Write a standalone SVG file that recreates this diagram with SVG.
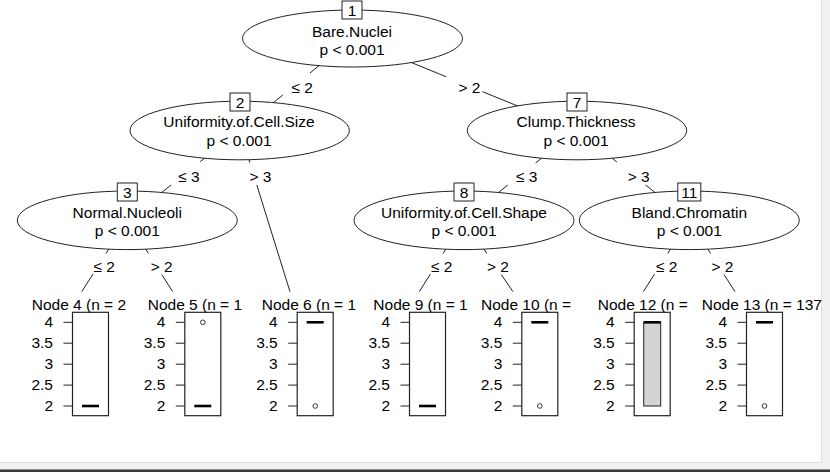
<svg xmlns="http://www.w3.org/2000/svg" xmlns:xlink="http://www.w3.org/1999/xlink" width="830" height="472" viewBox="0 0 830 472">
<style>
text{font-family:"Liberation Sans",Arial,sans-serif;font-size:15.5px;fill:#000}
.c{text-anchor:middle}
.e{text-anchor:end}
.edge{stroke:#222;stroke-width:1;fill:none}
.ell{fill:#fff;stroke:#222;stroke-width:1}
.idb{fill:#fff;stroke:#222;stroke-width:1}
.pbox{fill:none;stroke:#222;stroke-width:1.2}
.tick{stroke:#222;stroke-width:1;fill:none}
.med{stroke:#000;stroke-width:2.6}
.out{fill:#fff;stroke:#222;stroke-width:0.9}
</style>
<defs>
<g id="axis">
<path class="tick" d="M-9,322.3H0M-9,343.2H0M-9,364.2H0M-9,385.1H0M-9,406H0"/>
<text class="e" x="-19.5" y="327.3">4</text>
<text class="e" x="-19.5" y="348.2">3.5</text>
<text class="e" x="-19.5" y="369.2">3</text>
<text class="e" x="-19.5" y="390.1">2.5</text>
<text class="e" x="-19.5" y="411">2</text>
<rect class="pbox" x="0" y="312.3" width="36" height="103.4"/>
</g>
</defs>
<rect x="0" y="0" width="830" height="472" fill="#fff"/>
<rect x="822" y="0" width="8" height="472" fill="#f1f1f1"/>
<rect x="0" y="463" width="830" height="7" fill="#f1f1f1"/>
<rect x="0" y="469.5" width="830" height="2.5" fill="#3a3a3a"/>
<path d="M821.5,0V462.5H0" stroke="#dedede" fill="none"/>

<g id="connectors">
<path class="edge" d="M352.5,38.5L310,73M282.8,95L239.7,130"/>
<path class="edge" d="M352.5,38.5L446,76.7M482.5,91.7L577,130"/>
<path class="edge" d="M239.7,130L200.1,161.7M171,185L127.3,220"/>
<path class="edge" d="M239.7,130L249.8,162.5M256.8,185L290,291.7"/>
<path class="edge" d="M577,130L535.6,163M507.9,185L464,220"/>
<path class="edge" d="M577,130L616.9,162M645.6,185L689.3,220"/>
<path class="edge" d="M127.3,220L106,253.5M93,274L81.7,291.7"/>
<path class="edge" d="M127.3,220L148.5,253.5M161.8,274.5L172.7,291.7"/>
<path class="edge" d="M464,220L443.1,253.5M430.4,274L419.3,291.7"/>
<path class="edge" d="M464,220L486.9,253.5M501.2,274.5L513,291.7"/>
<path class="edge" d="M689.3,220L667.8,253.5M654.6,274L643.3,291.7"/>
<path class="edge" d="M689.3,220L710.6,253.5M724,274.5L735,291.7"/>
<text class="c" x="302.2" y="92.5">≤ 2</text>
<text class="c" x="469.5" y="93">&gt; 2</text>
<text class="c" x="189" y="181.7">≤ 3</text>
<text class="c" x="260.5" y="181.7">&gt; 3</text>
<text class="c" x="526.7" y="181.7">≤ 3</text>
<text class="c" x="638.7" y="181.7">&gt; 3</text>
<text class="c" x="104.2" y="271.7">≤ 2</text>
<text class="c" x="161.7" y="271.7">&gt; 2</text>
<text class="c" x="441.7" y="271.7">≤ 2</text>
<text class="c" x="498" y="271.7">&gt; 2</text>
<text class="c" x="666.7" y="271.7">≤ 2</text>
<text class="c" x="722.5" y="271.7">&gt; 2</text>
</g>

<g id="node1">
<ellipse class="ell" cx="352.5" cy="38.5" rx="110" ry="28.5"/>
<rect class="idb" x="342" y="1" width="20" height="18"/>
<text class="c" x="352" y="15.5">1</text>
<text class="c" x="352" y="37.3">Bare.Nuclei</text>
<text class="c" x="352" y="55">p &lt; 0.001</text>
</g>
<g id="node2">
<ellipse class="ell" cx="239.7" cy="130.5" rx="109.7" ry="29.3"/>
<rect class="idb" x="230" y="93" width="20" height="18"/>
<text class="c" x="240" y="107.5">2</text>
<text class="c" x="239" y="127.3">Uniformity.of.Cell.Size</text>
<text class="c" x="239" y="145.5">p &lt; 0.001</text>
</g>
<g id="node7">
<ellipse class="ell" cx="577" cy="130.5" rx="109.7" ry="29.3"/>
<rect class="idb" x="567" y="93" width="20" height="18"/>
<text class="c" x="577" y="107.5">7</text>
<text class="c" x="576" y="127.3">Clump.Thickness</text>
<text class="c" x="576" y="145.5">p &lt; 0.001</text>
</g>
<g id="node3">
<ellipse class="ell" cx="127.3" cy="220.3" rx="110" ry="29.3"/>
<rect class="idb" x="117.3" y="183" width="20" height="18"/>
<text class="c" x="127.3" y="197.5">3</text>
<text class="c" x="127.3" y="218.3">Normal.Nucleoli</text>
<text class="c" x="127.3" y="236.3">p &lt; 0.001</text>
</g>
<g id="node8">
<ellipse class="ell" cx="464" cy="220.3" rx="110" ry="29.3"/>
<rect class="idb" x="454" y="183" width="20" height="18"/>
<text class="c" x="464" y="197.5">8</text>
<text class="c" x="464" y="218.3">Uniformity.of.Cell.Shape</text>
<text class="c" x="464" y="236.3">p &lt; 0.001</text>
</g>
<g id="node11">
<ellipse class="ell" cx="689.3" cy="220.3" rx="110" ry="29.3"/>
<rect class="idb" x="677.8" y="183" width="23" height="18"/>
<text class="c" x="689.3" y="197.5">11</text>
<text class="c" x="689.3" y="218.3">Bland.Chromatin</text>
<text class="c" x="689.3" y="236.3">p &lt; 0.001</text>
</g>

<g id="node4" transform="translate(72.5,0)">
<text x="-40.8" y="309.7">Node 4 (n = 2</text>
<use xlink:href="#axis"/>
<path class="med" d="M9.5,406H26.5"/>
</g>
<g id="node5" transform="translate(184.8,0)">
<text x="-37.1" y="309.7">Node 5 (n = 1</text>
<use xlink:href="#axis"/>
<path class="med" d="M9.5,406H26.5"/>
<circle class="out" cx="18" cy="322.3" r="2.3"/>
</g>
<g id="node6" transform="translate(297.2,0)">
<text x="-35.5" y="309.7">Node 6 (n = 1</text>
<use xlink:href="#axis"/>
<path class="med" d="M9.5,322.3H26.5"/>
<circle class="out" cx="18" cy="406" r="2.3"/>
</g>
<g id="node9" transform="translate(409.5,0)">
<text x="-36.2" y="309.7">Node 9 (n = 1</text>
<use xlink:href="#axis"/>
<path class="med" d="M9.5,406H26.5"/>
</g>
<g id="node10" transform="translate(521.8,0)">
<text x="-40.8" y="309.7">Node 10 (n =</text>
<use xlink:href="#axis"/>
<path class="med" d="M9.5,322.3H26.5"/>
<circle class="out" cx="18" cy="406" r="2.3"/>
</g>
<g id="node12" transform="translate(634.2,0)">
<text x="-36.5" y="309.7">Node 12 (n =</text>
<use xlink:href="#axis"/>
<rect x="9.5" y="322.3" width="17" height="83.7" fill="#d3d3d3" stroke="#222" stroke-width="1"/>
<path class="med" d="M9.5,322.3H26.5"/>
</g>
<g id="node13" transform="translate(746.5,0)">
<text x="-44.8" y="309.7">Node 13 (n = 137</text>
<use xlink:href="#axis"/>
<path class="med" d="M9.5,322.3H26.5"/>
<circle class="out" cx="18" cy="406" r="2.3"/>
</g>
</svg>
